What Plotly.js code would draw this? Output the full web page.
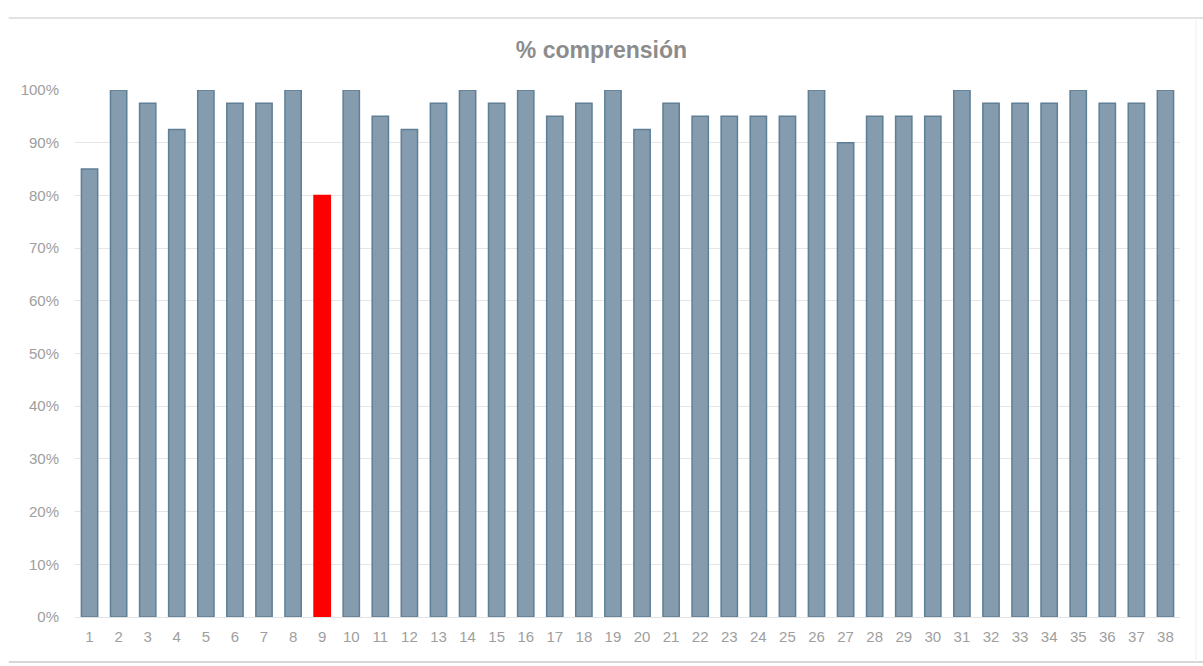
<!DOCTYPE html>
<html>
<head>
<meta charset="utf-8">
<script src="https://cdn.plot.ly/plotly-3.0.1.min.js"></script>
<style>html,body{margin:0;padding:0;background:#fff;}#chart{width:1203px;height:666px;}</style>
</head>
<body>
<div id="chart"></div>
<script>
const categories = ["1","2","3","4","5","6","7","8","9","10","11","12","13","14","15","16","17","18","19","20","21","22","23","24","25","26","27","28","29","30","31","32","33","34","35","36","37","38"];
const values = [0.85,1.00,0.975,0.925,1.00,0.975,0.975,1.00,0.80,1.00,0.95,0.925,0.975,1.00,0.975,1.00,0.95,0.975,1.00,0.925,0.975,0.95,0.95,0.95,0.95,1.00,0.90,0.95,0.95,0.95,1.00,0.975,0.975,0.975,1.00,0.975,0.975,1.00];
const highlighted = "9";
const titleText = "% comprensión";

const fillColors = categories.map(c => c === highlighted ? "#ff0000" : "#859bae");
const lineColors = categories.map(c => c === highlighted ? "#ff0000" : "#5f7f96");

const trace = {
  type: "bar",
  x: categories,
  y: values,
  marker: {color: fillColors, line: {color: lineColors, width: 1.5}},
  hoverinfo: "x+y"
};

const tickFont = {family: "Liberation Sans, Arial, sans-serif", size: 15, color: "#9e9e9e"};

const layout = {
  width: 1203, height: 666,
  margin: {l: 75, r: 23, t: 90, b: 49},
  paper_bgcolor: "#ffffff", plot_bgcolor: "#ffffff",
  title: {text: titleText, x: 0.5, xanchor: "center", y: 0.925, yanchor: "middle",
          font: {family: "Liberation Sans, Arial, sans-serif", size: 23, color: "#8c8c8c", weight: "bold"}},
  bargap: 0.44,
  showlegend: false,
  xaxis: {type: "category", showgrid: false, zeroline: false, showline: true, linecolor: "#e3e3e3", linewidth: 1,
          ticks: "", ticklabelstandoff: 6, tickfont: tickFont},
  yaxis: {range: [0, 1.0], dtick: 0.1, tickformat: ".0%", showgrid: true, gridcolor: "#e6e6e6", gridwidth: 1,
          zeroline: false, showline: false, ticks: "", ticklen: 0, ticklabelstandoff: 15,
          tickfont: tickFont},
  shapes: [
    {type: "line", xref: "paper", yref: "paper", x0: -0.06, x1: 1.021, y0: 1.1366, y1: 1.1366, line: {color: "#e2e2e2", width: 2}},
    {type: "line", xref: "paper", yref: "paper", x0: -0.06, x1: 1.021, y0: -0.0854, y1: -0.0854, line: {color: "#d6d6d6", width: 2}},
    {type: "line", xref: "paper", yref: "paper", x0: 1.0145, x1: 1.0145, y0: -0.0854, y1: 1.1366, line: {color: "#f0f0f0", width: 1}}
  ]
};

Plotly.newPlot("chart", [trace], layout, {displayModeBar: false, staticPlot: true});
</script>
</body>
</html>
